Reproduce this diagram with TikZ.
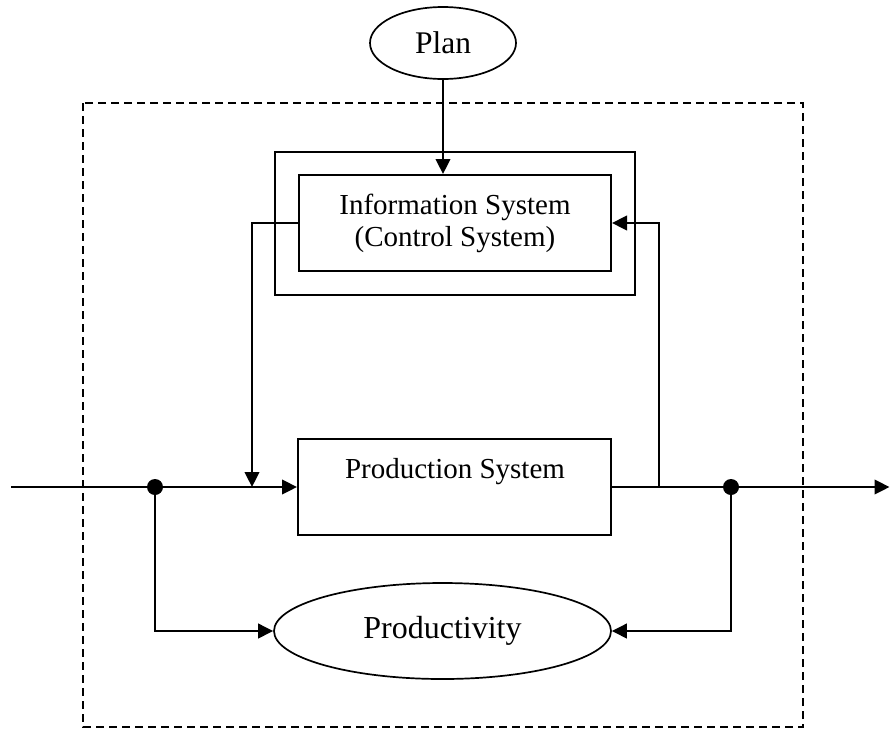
\documentclass[tikz,border=0pt]{standalone}
\usepackage{fontspec}
\setmainfont{Liberation Serif}
\usetikzlibrary{shapes.geometric,arrows.meta}
\begin{document}
\begin{tikzpicture}[x=1pt,y=-1pt,
  box/.style={draw, line width=2pt, rectangle, inner sep=0pt},
  oval/.style={draw, line width=1.7pt, ellipse, inner sep=0pt},
  conn/.style={line width=2.5pt, -{Triangle[length=15pt,width=14.5pt]}},
  plainline/.style={line width=2.5pt},
  junction/.style={circle, fill, inner sep=0pt, minimum size=16pt},
  boundary/.style={line width=1.7pt, dash pattern=on 8pt off 5pt}
]
\useasboundingbox (0,0) rectangle (890,729);
\draw[boundary] (83,103) rectangle (803,727);

\node[oval, minimum width=146pt, minimum height=72pt, font=\fontsize{31.5}{36}\selectfont] (plan) at (443,43) {Plan};
\node[box, minimum width=360pt, minimum height=143pt] (infoouter) at (455,223.5) {};
\node[box, minimum width=312pt, minimum height=96pt, align=center, font=\fontsize{29}{32}\selectfont] (info) at (455,223) {Information System\\(Control System)};
\node[box, minimum width=313pt, minimum height=96pt] (prod) at (454.5,487) {};
\node[anchor=base, inner sep=0pt, font=\fontsize{29}{33}\selectfont] (prodtext) at (455,478) {Production System};
\node[oval, minimum width=337pt, minimum height=96pt, font=\fontsize{32}{36}\selectfont] (prodv) at (442.5,631) {Productivity};

\coordinate (src) at (11,487);
\coordinate (sink) at (889.5,487);
\coordinate (jl) at (252,487);
\coordinate (jr) at (659,487);
\node[junction] (dl) at (155,487) {};
\node[junction] (dr) at (731,487) {};

\draw[conn] (plan.south) -- (plan.south |- info.north);
\draw[conn] (info.west) -| (jl);
\draw[conn] (jr) |- (info.east);
\draw[plainline] (src) -- (dl.center);
\draw[conn] (dl.center) -- (prod.west);
\draw[plainline] (prod.east) -- (dr.center);
\draw[conn] (dr.center) -- (sink);
\draw[conn] (dl.center) |- (prodv.west);
\draw[conn] (dr.center) |- (prodv.east);
\end{tikzpicture}
\end{document}
